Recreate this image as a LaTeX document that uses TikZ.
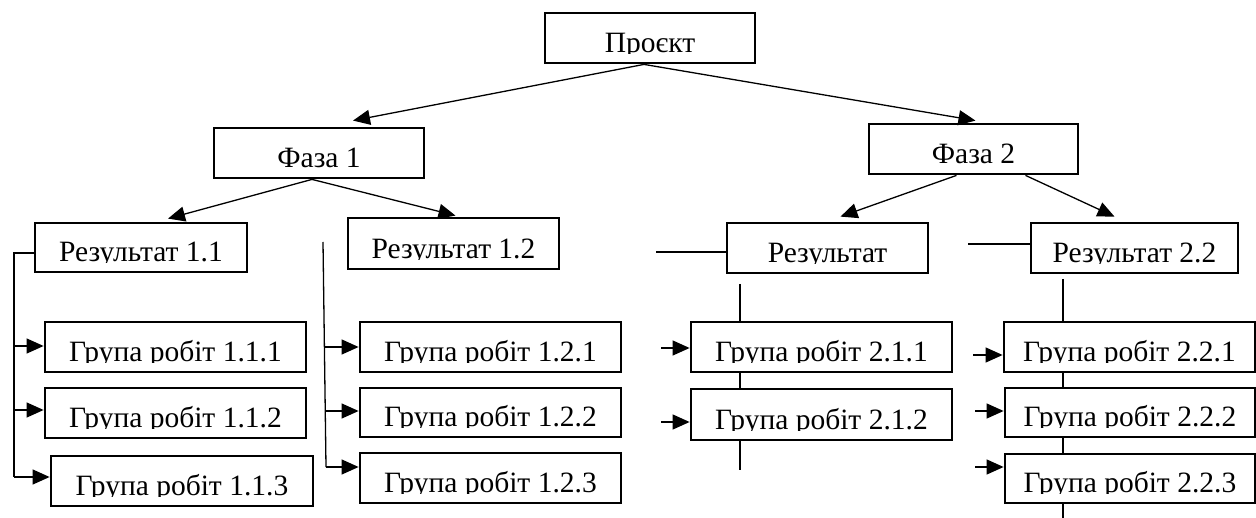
\documentclass[tikz,border=0pt]{standalone}
\usepackage{fontspec}
\setmainfont{Liberation Serif}
\usetikzlibrary{arrows.meta}
\newcommand{\mkbox}[6]{%
  \node[box,minimum width=#4pt,minimum height=#5pt] (#1) at (#2,#3) {};
  \begin{scope}
    \clip ([yshift=10.5pt]#1.south west) rectangle (#1.north east);
    \node[txt,anchor=base] at ([yshift=11.5pt]#1.south) {#6};
  \end{scope}}
\begin{document}
\begin{tikzpicture}[x=1pt,y=-1pt,
  box/.style={draw,line width=2.8pt,fill=white,inner sep=0pt},
  txt/.style={inner sep=0pt,font=\fontsize{29.5}{34}\selectfont},
  con/.style={line width=1.3pt},
  arr/.style={line width=1.3pt,-{Triangle[length=17pt,width=15pt]}}]
\useasboundingbox (0,0) rectangle (1256,518);
% vertical lines behind boxes
\coordinate (v21a) at (740,284);
\coordinate (v21b) at (740,470);
\coordinate (v22a) at (1063,279);
\coordinate (v22b) at (1063,518);
\draw[con] (v21a) -- (v21b);
\draw[con] (v22a) -- (v22b);
% boxes
\mkbox{p}{650}{38}{210}{50}{Проєкт}
\mkbox{f1}{319}{153}{210}{50}{Фаза 1}
\mkbox{f2}{973.5}{149}{209}{50}{Фаза 2}
\mkbox{r11}{141}{247.5}{212}{49}{Результат 1.1}
\mkbox{r12}{453.5}{243.5}{211}{51}{Результат 1.2}
\mkbox{r21}{827.5}{248}{201}{50}{Результат}
\mkbox{r22}{1134.5}{248}{207}{50}{Результат 2.2}
\mkbox{g111}{175.5}{347}{261}{50}{Група робіт 1.1.1}
\mkbox{g112}{175.5}{413}{261}{50}{Група робіт 1.1.2}
\mkbox{g113}{182}{481}{262}{50}{Група робіт 1.1.3}
\mkbox{g121}{490.5}{347}{261}{50}{Група робіт 1.2.1}
\mkbox{g122}{490.5}{412.5}{261}{49}{Група робіт 1.2.2}
\mkbox{g123}{490.5}{478}{261}{50}{Група робіт 1.2.3}
\mkbox{g211}{821.5}{347}{261}{50}{Група робіт 2.1.1}
\mkbox{g212}{821.5}{414.5}{261}{51}{Група робіт 2.1.2}
\mkbox{g221}{1129.5}{347}{251}{50}{Група робіт 2.2.1}
\mkbox{g222}{1130}{412.5}{250}{49}{Група робіт 2.2.2}
\mkbox{g223}{1130}{478.5}{250}{49}{Група робіт 2.2.3}
% top arrows
\draw[arr] ([xshift=-6pt]p.south) -- ([xshift=34pt,yshift=6pt]f1.north);
\draw[arr] ([xshift=-6pt]p.south) -- ([xshift=2pt,yshift=2pt]f2.north);
\draw[arr] ([xshift=-7pt]f1.south) -- ([xshift=27pt,yshift=3pt]r11.north);
\draw[arr] ([xshift=-7pt]f1.south) -- ([xshift=2pt,yshift=1pt]r12.north);
\draw[arr] ([xshift=-17pt]f2.south) -- ([xshift=13pt,yshift=5pt]r21.north);
\draw[arr] ([xshift=52pt]f2.south) -- ([xshift=-20pt,yshift=5pt]r22.north);
% Результат 1.1 bracket
\coordinate (b11) at (14,253);
\coordinate (b11e) at (14,477);
\coordinate (a111) at (14,346);
\coordinate (a112) at (14,410);
\draw[con] (r11.west |- b11) -- (b11) -- (b11e);
\draw[arr] (a111) -- (a111 -| g111.west);
\draw[arr] (a112) -- (a112 -| g112.west);
\draw[arr] (b11e) -- (b11e -| g113.west);
% Результат 1.2 bracket
\coordinate (b12a) at (323,242);
\coordinate (b12b) at (326,467);
\coordinate (a121) at (324.3,347);
\coordinate (a122) at (325.2,411);
\draw[con] (b12a) -- (b12b);
\draw[arr] (a121) -- (a121 -| g121.west);
\draw[arr] (a122) -- (a122 -| g122.west);
\draw[arr] (b12b) -- (b12b -| g123.west);
% Результат 2.1
\coordinate (l21) at (656,252);
\draw[con] (l21) -- (l21 -| r21.west);
\coordinate (a211) at (661,348);
\coordinate (a212) at (661,422);
\draw[arr] (a211) -- (a211 -| g211.west);
\draw[arr] (a212) -- (a212 -| g212.west);
% Результат 2.2
\coordinate (l22) at (968,244);
\draw[con] (l22) -- (l22 -| r22.west);
\coordinate (a221) at (973,355);
\coordinate (a222) at (975,411);
\coordinate (a223) at (975,467);
\draw[arr] (a221) -- (a221 -| g221.west);
\draw[arr] (a222) -- (a222 -| g222.west);
\draw[arr] (a223) -- (a223 -| g223.west);
\end{tikzpicture}
\end{document}
